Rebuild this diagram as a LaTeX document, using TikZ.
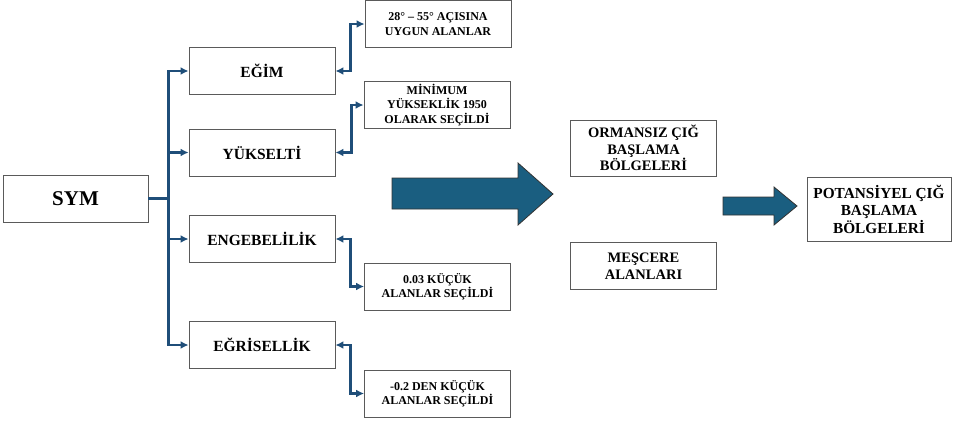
\documentclass[tikz,border=0pt]{standalone}
\usepackage{fontspec}
\setmainfont{Liberation Serif}
\usepackage{xcolor}
\usetikzlibrary{arrows.meta,positioning,calc}

\definecolor{linkblue}{HTML}{1F4E79}
\definecolor{arrowfill}{HTML}{1A5E80}
\definecolor{boxgray}{HTML}{5A5A5A}

\tikzset{
  box/.style={draw=boxgray,line width=0.9pt,align=center,inner sep=0pt,
    minimum width=146,minimum height=47,font=\bfseries},
  mainbox/.style={box,font=\fontsize{15.5}{18}\selectfont\bfseries},
  notebox/.style={box,font=\fontsize{12}{14.3}\selectfont\bfseries},
  resbox/.style={box,font=\fontsize{14.5}{16.5}\selectfont\bfseries},
  link/.style={draw=linkblue,line width=2.1pt,-{Latex[length=8pt,width=8pt]}},
  twolink/.style={link,{Latex[length=8pt,width=8pt]}-{Latex[length=8pt,width=8pt]}},
  blockarrow/.style={fill=arrowfill,draw=black!80,line width=0.8pt}
}

\begin{document}
\begin{tikzpicture}[x=1pt,y=-1pt]
  \useasboundingbox (0,0) rectangle (953,421);

  \node[box,minimum width=145,font=\fontsize{21}{24}\selectfont\bfseries] (sym) at (75.5,198.5) {SYM};

  \node[mainbox] (egim) at (262,71) {EĞİM};
  \node[mainbox] (yukselti) at (262,152.5) {YÜKSELTİ};
  \node[mainbox] (engebe) at (262,239) {ENGEBELİLİK};
  \node[mainbox] (egri) at (262,345) {EĞRİSELLİK};

  \node[notebox] (aci) at (438,24) {28° – 55° AÇISINA\\UYGUN ALANLAR};
  \node[notebox] (minyuk) at (437,105) {MİNİMUM\\YÜKSEKLİK 1950\\OLARAK SEÇİLDİ};
  \node[notebox] (kucuk) at (437.5,286.5) {0.03 KÜÇÜK\\ALANLAR SEÇİLDİ};
  \node[notebox] (eksi) at (437.5,393.5) {-0.2 DEN KÜÇÜK\\ALANLAR SEÇİLDİ};

  \node[resbox,minimum height=56] (ormansiz) at (643.5,148) {ORMANSIZ ÇIĞ\\BAŞLAMA\\BÖLGELERİ};
  \node[resbox] (mescere) at (643.5,266) {MEŞCERE\\ALANLARI};
  \node[resbox,minimum width=144,minimum height=64,
    font=\fontsize{15.3}{17.5}\selectfont\bfseries] (potansiyel) at (879,209) {POTANSİYEL ÇIĞ\\BAŞLAMA\\BÖLGELERİ};

  % SYM to the four layers
  \draw[link] (sym.east) -- ++(20,0) |- (egim.west);
  \draw[link] (sym.east) -- ++(20,0) |- (yukselti.west);
  \draw[link] (sym.east) -- ++(20,0) |- (engebe.west);
  \draw[link] (sym.east) -- ++(20,0) |- (egri.west);

  % criteria
  \draw[twolink] (egim.east) -- ++(15,0) |- (aci.west);
  \draw[twolink] (yukselti.east) -- ++(16,0) |- (minyuk.west);
  \draw[twolink] (engebe.east) -- ++(15,0) |- (kucuk.west);
  \draw[twolink] (egri.east) -- ++(15,0) |- (eksi.west);

  % block arrows
  \draw[blockarrow] (392,178) -- (518,178) -- (518,163) -- (553,194)
    -- (518,225) -- (518,209) -- (392,209) -- cycle;
  \draw[blockarrow] (723,197) -- (774,197) -- (774,187) -- (797,206)
    -- (774,225) -- (774,215) -- (723,215) -- cycle;
\end{tikzpicture}
\end{document}
